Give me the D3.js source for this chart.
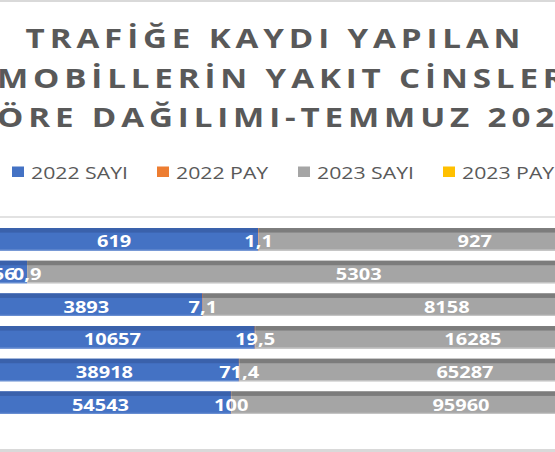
<!DOCTYPE html>
<html>
<head>
<meta charset="utf-8">
<script src="https://cdn.jsdelivr.net/npm/d3@7"></script>
<style>
  html, body { margin: 0; padding: 0; background: #fff; overflow: hidden; }
  svg { display: block; }
</style>
</head>
<body>
<svg id="chart" width="555" height="452"></svg>
<script>
// ---- data ----
const categories = ["LPG", "ELEKTRİK", "DİZEL", "HİBRİT", "BENZİN", "TOPLAM"];
const seriesNames = ["2022 SAYI", "2022 PAY", "2023 SAYI", "2023 PAY"];
const sayi2022 = [619, 456, 3893, 10657, 38918, 54543];
const pay2022  = [1.1, 0.9, 7.1, 19.5, 71.4, 100];
const sayi2023 = [927, 5303, 8158, 16285, 65287, 95960];
const pay2023  = [1.0, 5.5, 8.5, 17.0, 68.0, 100];
const titleLines = ["TRAFİĞE KAYDI YAPILAN", "OTOMOBİLLERİN YAKIT CİNSLERİNE", "GÖRE DAĞILIMI-TEMMUZ 2023"];

// ---- style ----
const colors = ["#4472C4", "#ED7D31", "#A5A5A5", "#FFC000"];
const topColors = ["#3a61ab", "#c9692a", "#7c7c7c", "#d9a300"];
const botColors = ["#6a8fd2", "#f29a60", "#c6c6c6", "#ffd35a"];
const SX = 1.25;

const svg = d3.select("#chart");
const W = 555, H = 452;

// frame
svg.append("rect").attr("x", 0).attr("y", 0).attr("width", W).attr("height", 2).attr("fill", "#d9d9d9");
svg.append("rect").attr("x", 0).attr("y", 449).attr("width", W).attr("height", 3).attr("fill", "#d9d9d9");

// title
const titleY = [48, 87.5, 126.5];
titleLines.forEach((t, i) => {
  svg.append("text")
    .attr("transform", `translate(275.5,${titleY[i]}) scale(${SX},1)`)
    .attr("text-anchor", "middle")
    .attr("font-family", "'Open Sans', sans-serif")
    .attr("font-weight", 700)
    .attr("font-size", 26.5)
    .attr("letter-spacing", 3.9)
    .attr("fill", "#595959")
    .text(t);
});

// legend
const legendX = [12, 157, 298, 443];
const legend = svg.append("g");
seriesNames.forEach((s, i) => {
  legend.append("rect").attr("x", legendX[i]).attr("y", 166.5).attr("width", 12).attr("height", 10.5).attr("fill", colors[i]);
  legend.append("text")
    .attr("transform", `translate(${legendX[i] + 19},178.5) scale(${SX},1)`)
    .attr("font-family", "'Open Sans', sans-serif")
    .attr("font-size", 17)
    .attr("fill", "#595959")
    .text(s);
});

// plot top line
svg.append("line").attr("x1", 0).attr("x2", W).attr("y1", 217).attr("y2", 217)
  .attr("stroke", "#d9d9d9").attr("stroke-width", 1.5);

// data table
const rows = categories.map((c, i) => ({
  cat: c,
  "2022 SAYI": sayi2022[i],
  "2022 PAY": pay2022[i],
  "2023 SAYI": sayi2023[i],
  "2023 PAY": pay2023[i]
}));
const stacked = d3.stack().keys(seriesNames).offset(d3.stackOffsetExpand)(rows);

const x = d3.scaleLinear().domain([0, 1]).range([-30, 691]);
const y = d3.scaleBand().domain(categories).range([223, 419]).paddingInner(0.31).paddingOuter(0.155);
const bh = y.bandwidth();

const g = svg.append("g");
stacked.forEach((layer, si) => {
  const lg = g.append("g");
  lg.selectAll("rect.body").data(layer).join("rect").attr("class", "body")
    .attr("x", d => x(d[0])).attr("width", d => Math.max(0, x(d[1]) - x(d[0])))
    .attr("y", d => y(d.data.cat)).attr("height", bh)
    .attr("fill", colors[si]);
  lg.selectAll("rect.top").data(layer).join("rect").attr("class", "top")
    .attr("x", d => x(d[0])).attr("width", d => Math.max(0, x(d[1]) - x(d[0])))
    .attr("y", d => y(d.data.cat)).attr("height", 4.5)
    .attr("fill", topColors[si]);
  lg.selectAll("rect.bot").data(layer).join("rect").attr("class", "bot")
    .attr("x", d => x(d[0])).attr("width", d => Math.max(0, x(d[1]) - x(d[0])))
    .attr("y", d => y(d.data.cat) + bh - 1.2).attr("height", 1.2)
    .attr("fill", botColors[si]);
});

// labels
const fmt = (key, v) => key.includes("PAY")
  ? (Number.isInteger(v) ? String(v) : String(v).replace(".", ","))
  : String(v);
stacked.forEach((layer, si) => {
  g.append("g").selectAll("text").data(layer).join("text")
    .attr("transform", d => `translate(${(x(d[0]) + x(d[1])) / 2},${y(d.data.cat) + bh / 2 + 8}) scale(${SX},1)`)
    .attr("text-anchor", "middle")
    .attr("font-family", "'Open Sans', sans-serif")
    .attr("font-weight", 700)
    .attr("font-size", 16)
    .attr("fill", "#ffffff")
    .text(d => fmt(layer.key, d.data[layer.key]));
});
</script>
</body>
</html>
